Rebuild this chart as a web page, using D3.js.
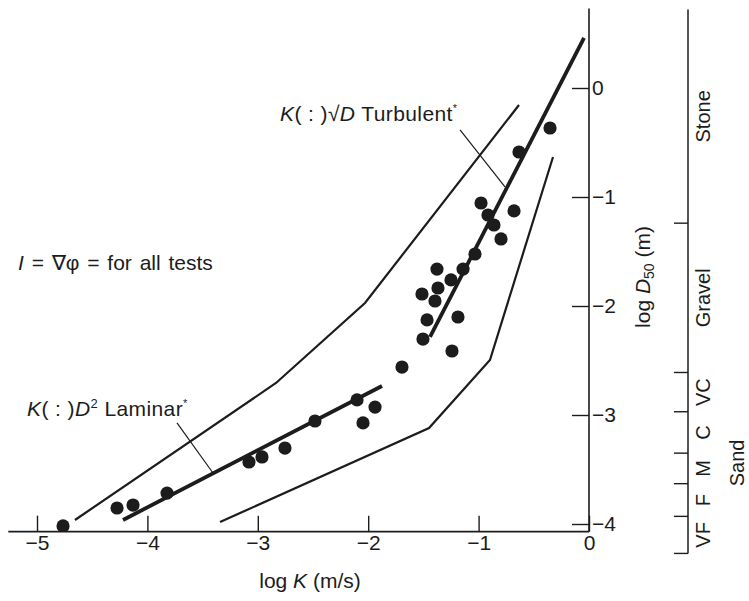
<!DOCTYPE html>
<html><head><meta charset="utf-8">
<script src="https://cdn.jsdelivr.net/npm/d3@7"></script>
<style>
body{margin:0;background:#fff}
svg{display:block}
text{font-family:"Liberation Sans",Arial,Helvetica,sans-serif;fill:#1c1c1c}
</style>
</head><body><svg id="c" width="749" height="601"></svg>
<script>
// ---- data (log10 values) ----
const xTicks = [-5, -4, -3, -2, -1, 0];
const yTicks = [0, -1, -2, -3, -4];
const upperEnvelope = [[-4.656, -3.963], [-2.835, -2.706], [-2.029, -1.972], [-0.634, -0.156]];
const lowerEnvelope = [[-3.342, -3.982], [-1.449, -3.119], [-0.897, -2.495], [-0.326, -0.633]];
const laminarFit = [[-4.221, -3.963], [-1.875, -2.734]];
const turbulentFit = [[-1.440, -2.284], [-0.045, 0.459]];
const laminarLeader = [[-3.732, -3.073], [-3.406, -3.532]];
const turbulentLeader = [[-1.168, -0.385], [-0.761, -0.908]];
const pointLogK = [-4.764, -4.275, -4.130, -3.822, -3.080, -2.962, -2.754, -2.482, -2.101, -2.047, -1.938,
                   -1.694, -1.504, -1.467, -1.241, -1.187, -1.395, -1.513, -1.368, -1.250, -1.377, -1.141,
                   -1.033, -0.797, -0.861, -0.915, -0.978, -0.679, -0.634, -0.353];
const pointLogD = [-4.018, -3.853, -3.826, -3.716, -3.431, -3.385, -3.303, -3.055, -2.862, -3.073, -2.927,
                   -2.560, -2.303, -2.128, -2.413, -2.101, -1.954, -1.890, -1.835, -1.761, -1.661, -1.661,
                   -1.523, -1.385, -1.257, -1.165, -1.055, -1.128, -0.587, -0.367];
const classBounds = [0.72, -1.24, -2.61, -2.97, -3.35, -3.63, -3.93, -4.27];
const classNames = ["Stone", "Gravel", "VC", "C", "M", "F", "VF"];

// ---- scales ----
const x = d3.scaleLinear().domain([-5, 0]).range([37, 589]);
const y = d3.scaleLinear().domain([-4, 0]).range([524, 88]);
const xMin = -5.26, yMin = -4.07, yMax = 0.73;
const fmt = d => d === 0 ? "0" : "\u2212" + Math.abs(d);

const svg = d3.select("#c");
const ink = "#1c1c1c";
svg.append("rect").attr("width", 749).attr("height", 601).attr("fill", "#fff");

svg.append("defs").append("clipPath").attr("id", "plot")
  .append("rect").attr("x", x(xMin)).attr("y", 0).attr("width", x(0) - x(xMin)).attr("height", y(yMin));

// ---- axes ----
const xAxis = d3.axisBottom(x).tickValues(xTicks).tickFormat(fmt).tickSizeInner(-16).tickSizeOuter(0).tickPadding(5);
const gx = svg.append("g").attr("transform", `translate(0,${y(yMin)})`).call(xAxis);
gx.select(".domain").remove();
gx.selectAll(".tick line").attr("stroke", ink).attr("stroke-width", 1.4);
gx.selectAll(".tick text").attr("font-size", 21).attr("fill", ink).attr("dy", "0.62em");

const yAxis = d3.axisRight(y).tickValues(yTicks).tickFormat(fmt).tickSizeInner(-17).tickSizeOuter(0).tickPadding(3);
const gy = svg.append("g").attr("transform", `translate(${x(0)},0)`).call(yAxis);
gy.select(".domain").remove();
gy.selectAll(".tick line").attr("stroke", ink).attr("stroke-width", 1.4);
gy.selectAll(".tick text").attr("font-size", 21).attr("fill", ink);

svg.append("line").attr("x1", x(xMin)).attr("x2", x(0)).attr("y1", y(yMin)).attr("y2", y(yMin))
  .attr("stroke", ink).attr("stroke-width", 1.6);
svg.append("line").attr("x1", x(0)).attr("x2", x(0)).attr("y1", y(yMin)).attr("y2", y(yMax))
  .attr("stroke", ink).attr("stroke-width", 1.6);

// axis titles
const xt = svg.append("text").attr("x", 310).attr("y", 588).attr("text-anchor", "middle").attr("font-size", 21);
xt.append("tspan").text("log ");
xt.append("tspan").attr("font-style", "italic").text("K");
xt.append("tspan").text(" (m/s)");

const yt = svg.append("text").attr("transform", "translate(650,277) rotate(-90)")
  .attr("text-anchor", "middle").attr("font-size", 21);
yt.append("tspan").text("log ");
yt.append("tspan").attr("font-style", "italic").text("D");
yt.append("tspan").attr("font-size", 14).attr("dy", 4).text("50");
yt.append("tspan").attr("dy", -4).text(" (m)");

// ---- lines ----
const line = d3.line().x(d => x(d[0])).y(d => y(d[1]));
const g = svg.append("g");
g.append("path").datum(upperEnvelope).attr("d", line).attr("fill", "none").attr("stroke", ink).attr("stroke-width", 2.2);
g.append("path").datum(lowerEnvelope).attr("d", line).attr("fill", "none").attr("stroke", ink).attr("stroke-width", 2.2);
g.append("path").datum(laminarFit).attr("d", line).attr("fill", "none").attr("stroke", ink).attr("stroke-width", 3.8);
g.append("path").datum(turbulentFit).attr("d", line).attr("fill", "none").attr("stroke", ink).attr("stroke-width", 3.8);
g.append("path").datum(laminarLeader).attr("d", line).attr("fill", "none").attr("stroke", ink).attr("stroke-width", 1.2);
g.append("path").datum(turbulentLeader).attr("d", line).attr("fill", "none").attr("stroke", ink).attr("stroke-width", 1.2);

// ---- points ----
svg.append("g").attr("clip-path", "url(#plot)")
  .selectAll("circle").data(pointLogK.map((k, i) => [k, pointLogD[i]])).join("circle")
  .attr("cx", d => x(d[0])).attr("cy", d => y(d[1])).attr("r", 6.6).attr("fill", ink);

// ---- annotations ----
const t1 = svg.append("text").attr("x", 18).attr("y", 270).attr("font-size", 21).attr("word-spacing", 2);
t1.append("tspan").attr("font-style", "italic").text("I");
t1.append("tspan").text(" = ∇φ = for all tests");

const t2 = svg.append("text").attr("x", 27).attr("y", 416).attr("font-size", 21).attr("letter-spacing", 0.4);
t2.append("tspan").attr("font-style", "italic").text("K");
t2.append("tspan").text("( : )");
t2.append("tspan").attr("font-style", "italic").text("D");
t2.append("tspan").attr("font-size", 13).attr("dy", -8).text("2");
t2.append("tspan").attr("dy", 8).text(" Laminar");
t2.append("tspan").attr("font-size", 11).attr("dy", -9).text("*");

const t3 = svg.append("text").attr("x", 280).attr("y", 121).attr("font-size", 21).attr("letter-spacing", 0.4);
t3.append("tspan").attr("font-style", "italic").text("K");
t3.append("tspan").text("( : )√");
t3.append("tspan").attr("font-style", "italic").text("D");
t3.append("tspan").text(" Turbulent");
t3.append("tspan").attr("font-size", 11).attr("dy", -9).text("*");

// ---- sediment class scale ----
const sx = 688;
svg.append("line").attr("x1", sx).attr("x2", sx).attr("y1", y(classBounds[0])).attr("y2", y(classBounds[classBounds.length - 1]))
  .attr("stroke", ink).attr("stroke-width", 1.5);
svg.append("g").selectAll("line").data(classBounds.slice(1)).join("line")
  .attr("x1", sx - 14).attr("x2", sx).attr("y1", d => y(d)).attr("y2", d => y(d))
  .attr("stroke", ink).attr("stroke-width", 1.4);
svg.append("g").selectAll("text").data(classNames).join("text")
  .attr("transform", (d, i) => `translate(703,${y((classBounds[i] + classBounds[i + 1]) / 2)}) rotate(-90)`)
  .attr("text-anchor", "middle").attr("dominant-baseline", "central").attr("font-size", 20).text(d => d);
svg.append("text")
  .attr("transform", `translate(737,${y((classBounds[2] + classBounds[7]) / 2)}) rotate(-90)`)
  .attr("text-anchor", "middle").attr("dominant-baseline", "central").attr("font-size", 20).text("Sand");
</script>
</body></html>
